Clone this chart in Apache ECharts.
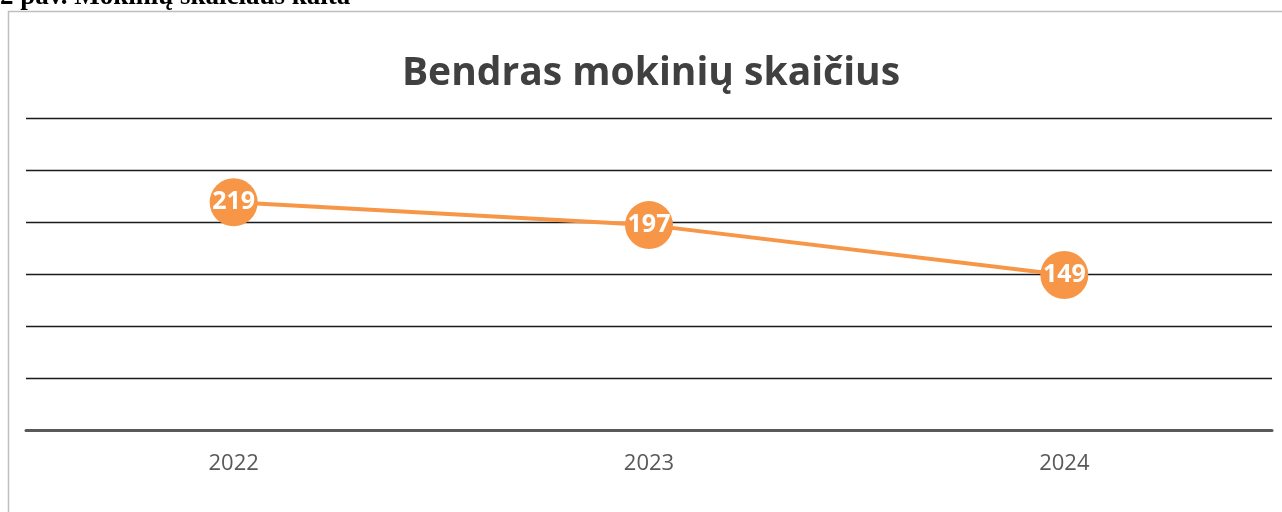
<!DOCTYPE html>
<html><head><meta charset="utf-8">
<script src="https://cdn.jsdelivr.net/npm/echarts@6/dist/echarts.min.js"></script>
<style>html,body{margin:0;padding:0;background:#fff;}#c{width:1282px;height:512px;}</style>
</head><body><div id="c"></div>
<script>
const categories = ['2022', '2023', '2024'];
const values = [219, 197, 149];
const chartTitle = 'Bendras mokinių skaičius';
const caption = '2 pav. Mokinių skaičiaus kaita';

const chart = echarts.init(document.getElementById('c'));
chart.setOption({
  animation: false,
  backgroundColor: '#fff',
  title: {
    text: chartTitle, left: 646, textAlign: 'center', top: 49,
    textStyle: { fontFamily: 'Open Sans', fontWeight: 'bold', fontSize: 39, color: '#404040' }
  },
  graphic: [
    { type: 'rect', shape: { x: 8.5, y: 11.5, width: 1300, height: 600 },
      style: { fill: 'none', stroke: '#bfbfbf', lineWidth: 1.5 }, z: -1 },
    { type: 'text', left: 0, top: -16,
      style: { text: caption, font: 'bold 27px "Liberation Serif"', fill: '#000' } }
  ],
  grid: { left: 26, right: 10, top: 118, bottom: 82 },
  xAxis: {
    type: 'category', data: categories, boundaryGap: true,
    axisLine: { lineStyle: { color: '#595959', width: 3 } },
    axisTick: { show: false },
    axisLabel: { fontFamily: 'Open Sans', fontSize: 22, color: '#595959', margin: 23 }
  },
  yAxis: {
    type: 'value', min: 0, max: 300, interval: 50,
    axisLabel: { show: false }, axisLine: { show: false }, axisTick: { show: false },
    splitLine: { lineStyle: { color: '#1a1a1a', width: 1.3 } }
  },
  series: [{
    type: 'line', data: values,
    lineStyle: { color: '#F79646', width: 4 },
    itemStyle: { color: '#F79646' },
    symbol: 'circle', symbolSize: 48,
    label: { show: true, position: 'inside', color: '#fff', fontFamily: 'Open Sans', fontWeight: 'bold', fontSize: 25 }
  }]
});
</script></body></html>
